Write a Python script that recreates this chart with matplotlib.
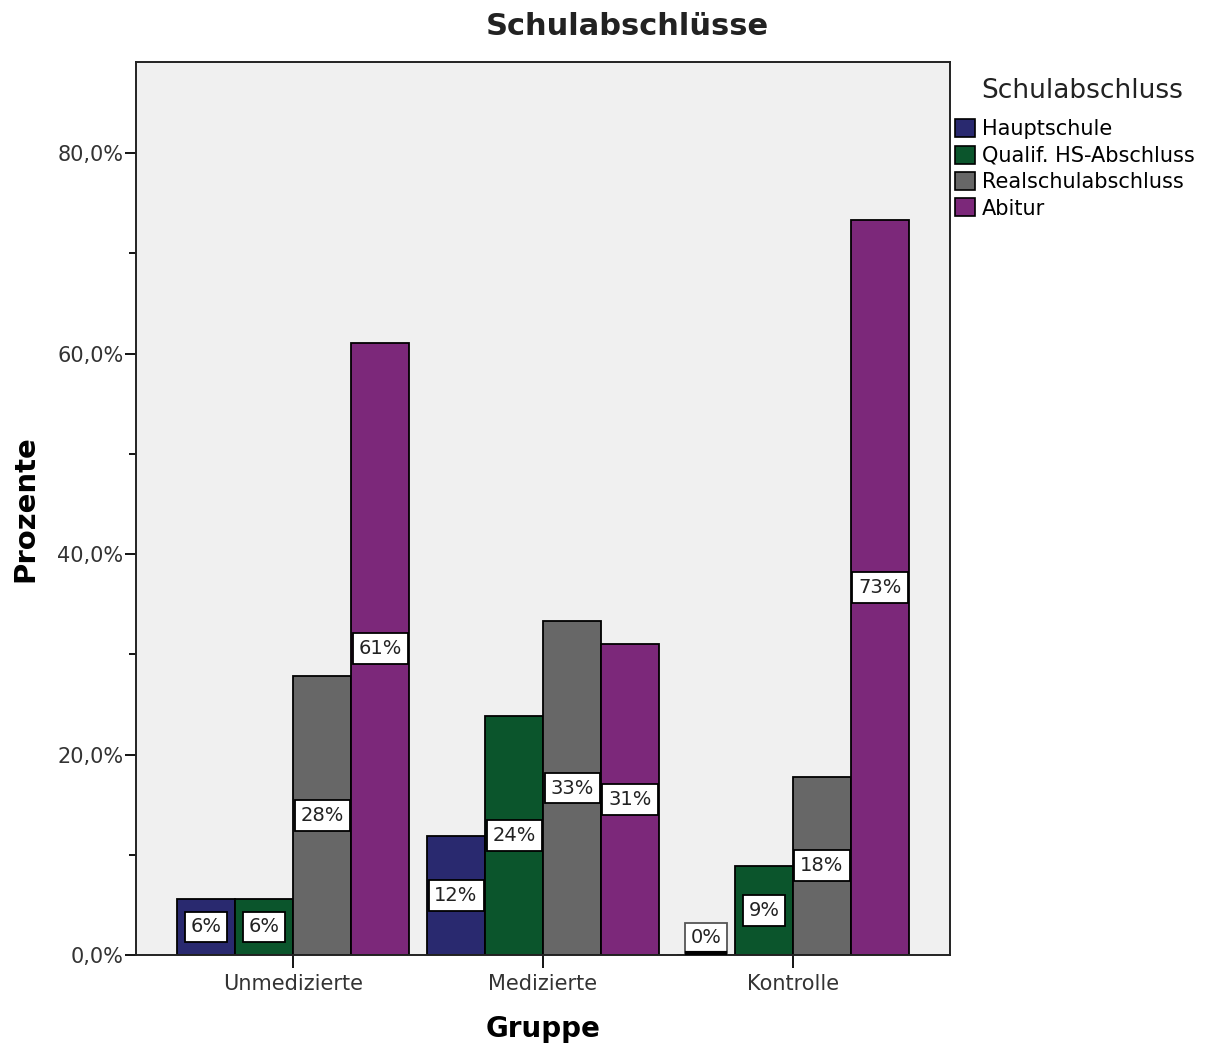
import matplotlib.pyplot as plt
import numpy as np
from matplotlib.patches import Patch
from matplotlib.ticker import MultipleLocator, FuncFormatter

# Schulabschlüsse je Gruppe (Prozent innerhalb der Gruppe)
gruppen = ['Unmedizierte', 'Medizierte', 'Kontrolle']
abschluesse = ['Hauptschule', 'Qualif. HS-Abschluss', 'Realschulabschluss', 'Abitur']
hauptschule = [5.6, 11.9, 0.0]
qualif_hs = [5.6, 23.8, 8.9]
realschule = [27.8, 33.3, 17.8]
abitur = [61.1, 31.0, 73.3]
farben = ['#29296f', '#0b552c', '#676767', '#7c287a']

werte = [hauptschule, qualif_hs, realschule, abitur]

fig = plt.figure(figsize=(12.17, 10.46), dpi=100)
ax = fig.add_axes([0.1118, 0.0870, 0.6688, 0.8537])
ax.set_facecolor('#f0f0f0')

x = np.arange(len(gruppen))
breite = 0.232
for i, (reihe, farbe) in enumerate(zip(werte, farben)):
    pos = x + (i - 1.5) * breite
    ax.bar(pos, reihe, width=breite, color=farbe, edgecolor='black',
           linewidth=1.3, zorder=2)
    for xp, v in zip(pos, reihe):
        if v == 0:
            # leere Kategorie: Linie an der Basis, Beschriftung darüber
            ax.plot([xp - 0.075, xp + 0.075], [0.15, 0.15],
                    color='black', lw=3, zorder=5, clip_on=False)
            ax.text(xp, 0.75, f'{v:.0f}%', ha='center', va='bottom',
                    fontsize=14, color='#222222', zorder=4,
                    bbox=dict(boxstyle='square,pad=0.3', fc='white',
                              ec='#555555', lw=1.3))
        else:
            ax.text(xp, v / 2, f'{v:.0f}%', ha='center', va='center',
                    fontsize=14, color='#222222', zorder=4,
                    bbox=dict(boxstyle='square,pad=0.3', fc='white',
                              ec='black', lw=1.3))

ax.set_xlim(-0.628, 2.628)
ax.set_ylim(0, 89.1)
ax.set_xticks(x)
ax.set_xticklabels(gruppen, fontsize=15, color='#333333')
ax.yaxis.set_major_locator(MultipleLocator(20))
ax.yaxis.set_minor_locator(MultipleLocator(10))
ax.yaxis.set_major_formatter(FuncFormatter(lambda v, p: f'{v:.1f}%'.replace('.', ',')))
ax.tick_params(axis='y', which='major', length=8, width=1.3, labelsize=15,
               labelcolor='#333333', pad=1)
ax.tick_params(axis='y', which='minor', length=5, width=1.3)
ax.tick_params(axis='x', length=9, width=1.3, pad=5)
for s in ax.spines.values():
    s.set_linewidth(1.4)
    s.set_color('#222222')

ax.set_ylabel('Prozente', fontsize=21, fontweight='bold', labelpad=13)
ax.set_xlabel('Gruppe', fontsize=20, fontweight='bold', labelpad=15)
fig.text(0.5152, 0.975, 'Schulabschlüsse', ha='center', va='center',
         fontsize=22, fontweight='bold', color='#222222')

# Legende rechts neben dem Diagramm
fig.text(0.806, 0.913, 'Schulabschluss', ha='left', va='center',
         fontsize=19, color='#222222')
handles = [Patch(facecolor=f, edgecolor='black', lw=1.2) for f in farben]
fig.legend(handles, abschluesse, loc='upper left',
           bbox_to_anchor=(0.7845, 0.886), frameon=False, fontsize=15,
           handlelength=0.95, handleheight=0.95, handletextpad=0.35,
           labelspacing=0.3, borderaxespad=0, borderpad=0)

fig.savefig('out.png', dpi=100)
